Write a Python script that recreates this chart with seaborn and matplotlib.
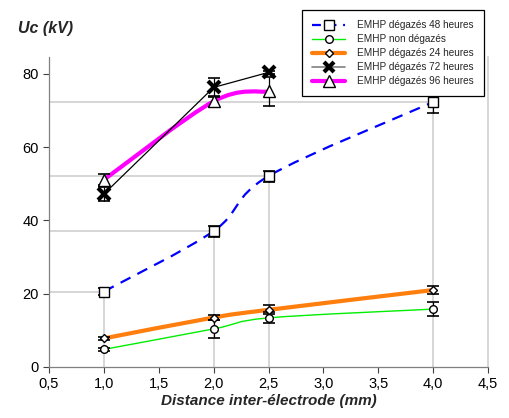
import numpy as np
import pandas as pd
import matplotlib
matplotlib.use("Agg")
import matplotlib.pyplot as plt
import seaborn as sns
from matplotlib.path import Path
from matplotlib.patches import PathPatch
from matplotlib.lines import Line2D

# --- données ---
dist = [1.0, 2.0, 2.5, 4.0]
dist_court = [1.0, 2.0, 2.5]

uc_48h = [20.6, 37.1, 52.1, 72.3]
err_48h = [1.0, 1.5, 1.5, 3.0]

uc_non = [4.8, 10.4, 13.4, 15.8]
err_non = [0.5, 2.5, 1.5, 2.0]

uc_24h = [7.8, 13.5, 15.6, 21.0]
err_24h = [0.5, 0.7, 1.2, 1.0]

uc_72h = [47.2, 76.3, 80.4]
err_72h = [2.0, 2.5, 0.5]

uc_96h = [51.1, 72.5, 75.2]
err_96h = [1.5, 1.5, 4.0]

labels = ["EMHP dégazés 48 heures", "EMHP non dégazés", "EMHP dégazés 24 heures",
          "EMHP dégazés 72 heures", "EMHP dégazés 96 heures"]

sns.set_theme(style="white")
plt.rcParams['font.family'] = ['Liberation Sans', 'DejaVu Sans']

fig = plt.figure(figsize=(5.09, 4.18), dpi=100)
ax = fig.add_axes([49 / 509, 51 / 418, 439 / 509, 310 / 418])


def courbe_lisse(x, y, **kw):
    # courbe lissée façon tableur (Bézier, tension 1/6)
    p = np.column_stack([x, y]).astype(float)
    pts = np.vstack([p[0], p, p[-1]])
    verts = [p[0]]
    codes = [Path.MOVETO]
    for i in range(1, len(pts) - 2):
        c1 = pts[i] + (pts[i + 1] - pts[i - 1]) / 6
        c2 = pts[i + 1] - (pts[i + 2] - pts[i]) / 6
        verts += [c1, c2, pts[i + 1]]
        codes += [Path.CURVE4] * 3
    ax.add_patch(PathPatch(Path(verts, codes), fill=False, capstyle='butt', **kw))


# lignes de rappel (grises) pour la série 48 h
gris = '#cccccc'
for xv, yv in zip(dist, uc_48h):
    ax.plot([0.5, xv], [yv, yv], color=gris, lw=1.1, zorder=1)
    ax.plot([xv, xv], [0, yv], color=gris, lw=1.1, zorder=1)

# courbes
courbe_lisse(dist, uc_48h, edgecolor='#0000ff', lw=1.6, linestyle=(0, (5, 3.5)), zorder=2)
courbe_lisse(dist, uc_non, edgecolor='#00ee00', lw=1.0, zorder=2)
courbe_lisse(dist, uc_24h, edgecolor='#ff7f0e', lw=3.0, zorder=2)
courbe_lisse(dist_court, uc_96h, edgecolor='#ff00ff', lw=3.0, zorder=2)
df72 = pd.DataFrame({'x': dist_court, 'y': uc_72h})
sns.lineplot(data=df72, x='x', y='y', ax=ax, color='black', lw=0.9, zorder=2)

# barres d'erreur
eb = dict(fmt='none', ecolor='black', elinewidth=0.9, capsize=4, capthick=1.2, zorder=3)
ax.errorbar(dist, uc_48h, yerr=err_48h, **eb)
ax.errorbar(dist, uc_non, yerr=err_non, **eb)
ax.errorbar(dist, uc_24h, yerr=err_24h, **eb)
ax.errorbar(dist_court, uc_72h, yerr=err_72h, **eb)
ax.errorbar(dist_court, uc_96h, yerr=err_96h, **eb)

# marqueurs
mk = dict(linestyle='none', mfc='white', mec='black', zorder=4)
ax.plot(dist, uc_48h, marker='s', ms=7, mew=1.0, **mk)
ax.plot(dist, uc_non, marker='o', ms=5.5, mew=1.0, **mk)
ax.plot(dist, uc_24h, marker='D', ms=4.5, mew=1.0, **mk)
ax.plot(dist_court, uc_96h, marker='^', ms=9, mew=1.0, **mk)
ax.plot(dist_court, uc_72h, marker='x', ms=8, mew=3.0, color='black', linestyle='none', zorder=5)

ax.set_xlim(0.5, 4.5)
ax.set_ylim(0, 84.6)
ax.set_xticks(np.arange(0.5, 4.51, 0.5))
ax.set_xticklabels([f"{v:.1f}".replace('.', ',') for v in np.arange(0.5, 4.51, 0.5)])
ax.set_yticks([0, 20, 40, 60, 80])
ax.tick_params(axis='both', direction='out', length=4, width=0.8, colors='#404040',
               labelsize=10.5, labelcolor='black', bottom=True, left=True)
ax.set_xlabel("Distance inter-électrode (mm)", fontsize=11, fontweight='bold',
              fontstyle='italic', labelpad=2)
ax.set_ylabel("")
fig.text(18 / 509, 1 - 28 / 418, "Uc (kV)", fontsize=11.5, fontweight='bold',
         fontstyle='italic', va='center', ha='left')

for s in ['left', 'bottom']:
    ax.spines[s].set_color('#808080')
    ax.spines[s].set_linewidth(0.9)
ax.spines['right'].set_color(gris)
ax.spines['right'].set_linewidth(1.1)
ax.spines['top'].set_visible(False)

handles = [
    Line2D([], [], color='#0000ff', lw=1.6, linestyle=(0, (4, 3)), marker='s', ms=7, mfc='white', mec='black'),
    Line2D([], [], color='#00ee00', lw=1.0, marker='o', ms=5.5, mfc='white', mec='black'),
    Line2D([], [], color='#ff7f0e', lw=3.0, marker='D', ms=4.5, mfc='white', mec='black'),
    Line2D([], [], color='gray', lw=1.2, marker='x', ms=7, mew=3.0, mec='black'),
    Line2D([], [], color='#ff00ff', lw=3.0, marker='^', ms=8, mfc='white', mec='black'),
]
leg = fig.legend(handles, labels, loc='upper left', bbox_to_anchor=(302 / 509, 1 - 10 / 418),
                 fontsize=7.2, frameon=True, fancybox=False, edgecolor='black',
                 framealpha=1, handlelength=3.3, labelspacing=0.4, borderpad=1.0,
                 handletextpad=1.2, borderaxespad=0)
leg.get_frame().set_linewidth(0.9)

fig.savefig("out.png", dpi=100)
